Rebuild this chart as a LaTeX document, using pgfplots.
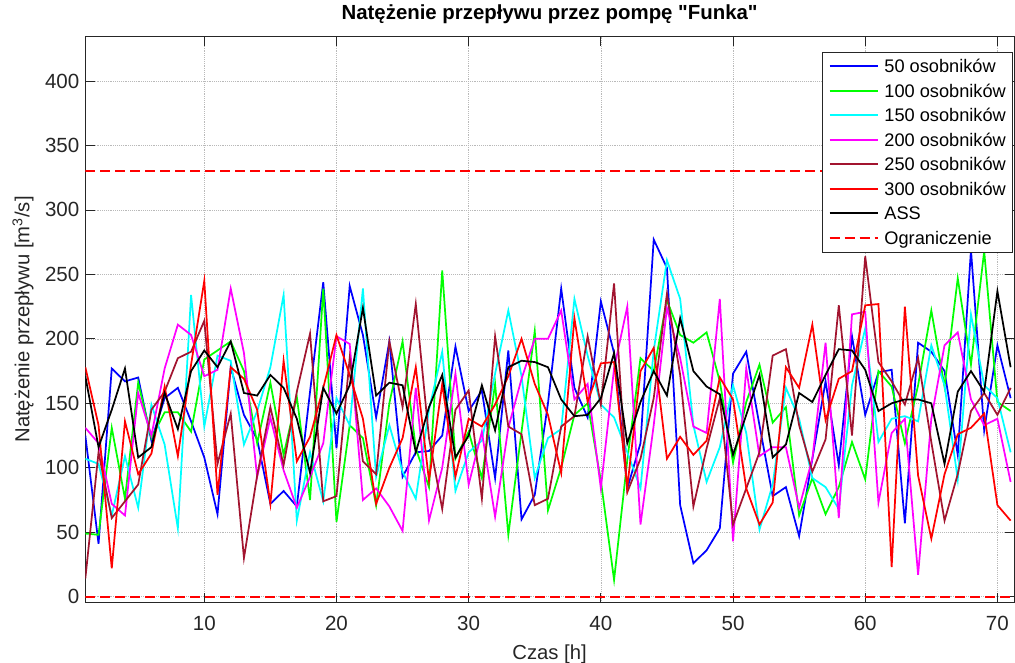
\documentclass[border=0pt]{standalone}
\usepackage{fontspec}
\setmainfont{Liberation Sans}[Ligatures=TeXOff]
\usepackage{pgfplots}
\usepackage{pgfplotstable}
\pgfplotsset{compat=1.18}
\definecolor{mdarkred}{rgb}{0.635,0.078,0.184}
\definecolor{mblue}{rgb}{0,0,1}
\definecolor{mgreen}{rgb}{0,1,0}
\definecolor{mcyan}{rgb}{0,1,1}
\definecolor{mmagenta}{rgb}{1,0,1}
\definecolor{mred}{rgb}{1,0,0}
\definecolor{axgray}{rgb}{0.15,0.15,0.15}

\pgfplotstableread{
x b g c m d r k
1 125 49 107 131 14 178 171
2 41 48 103 119 112 133 116
3 177 131 63 72 61 22 145
4 167 76 109 63 74 136 177
5 170 166 69 158 87 95 108
6 121 123 149 125 145 111 116
7 154 143 118 177 159 163 158
8 162 143 53 211 185 109 130
9 136 128 234 203 190 180 175
10 108 184 132 171 214 245 191
11 64 191 187 176 103 79 178
12 178 198 183 239 142 178 198
13 141 175 118 189 30 169 158
14 122 119 144 93 94 145 156
15 72 166 178 139 147 72 172
16 82 110 234 98 102 183 162
17 70 155 59 69 159 105 138
18 159 75 112 93 204 124 96
19 244 239 74 119 74 162 162
20 115 58 154 202 78 203 142
21 241 133 133 196 185 172 164
22 203 123 239 75 105 138 224
23 139 71 93 84 95 72 156
24 198 150 133 70 198 100 166
25 93 198 97 51 147 123 164
26 112 115 76 162 227 178 112
27 113 85 145 59 123 90 147
28 125 253 190 100 68 165 172
29 194 107 82 173 145 93 108
30 144 128 112 87 160 138 125
31 160 92 121 128 76 132 164
32 92 165 173 62 202 149 129
33 191 48 222 131 132 171 178
34 60 128 171 169 126 200 183
35 79 206 92 200 71 165 182
36 150 67 123 200 76 141 178
37 239 100 130 222 132 96 153
38 162 141 231 153 140 216 140
39 139 150 187 165 202 151 141
40 229 90 149 84 149 181 154
41 189 13 139 177 243 182 189
42 84 106 112 225 81 85 119
43 119 185 84 56 107 175 151
44 277 175 191 133 154 193 175
45 255 230 261 224 235 107 156
46 71 203 231 185 172 124 216
47 26 197 133 132 70 110 175
48 36 205 89 127 115 121 163
49 53 167 116 231 154 170 157
50 173 104 164 43 56 153 110
51 190 151 127 177 84 84 141
52 133 180 52 109 112 56 172
53 78 135 87 116 187 73 108
54 85 147 162 116 192 178 118
55 47 63 138 69 133 162 158
56 107 92 92 107 97 211 151
57 167 64 85 197 122 137 172
58 102 85 68 61 226 169 192
59 202 120 164 219 125 175 191
60 141 91 208 221 264 226 176
61 174 175 120 73 182 227 144
62 176 163 138 127 167 23 150
63 57 119 140 138 149 225 153
64 197 164 136 17 185 94 153
65 190 222 195 138 120 45 150
66 175 163 164 195 59 95 103
67 110 247 91 205 95 126 159
68 269 180 219 153 144 131 175
69 129 268 164 133 158 142 159
70 195 151 154 138 141 71 237
71 154 144 112 89 162 59 178
}\data

\begin{document}
\begin{tikzpicture}
\useasboundingbox (-64pt,-45.2pt) rectangle (697.3pt,452pt);
\begin{axis}[
  at={(0pt,0pt)}, anchor=south west,
  scale only axis, width=696.5pt, height=424.8pt,
  xmin=1, xmax=71.25, ymin=-4.6, ymax=434.7,
  xtick={10,20,...,70}, ytick={0,50,...,400},
  tick align=inside, tick pos=both, major tick length=7pt,
  grid=major, major grid style={gray!55, densely dotted, line width=0.4pt},
  axis line style={axgray, line width=0.6pt},
  every tick/.style={axgray, line width=0.6pt},
  tick label style={font=\fontsize{15.4}{18}\selectfont, text=axgray},
  /pgf/number format/assume math mode=true,
  xticklabel style={yshift=-6.4pt},
  yticklabel style={xshift=-1pt},
  xlabel={Czas [h]},
  xlabel style={at={(axis description cs:0.5,0)}, anchor=base, yshift=-42.5pt, font=\fontsize{15.2}{18}\selectfont, text=axgray},
  ylabel={Natężenie przepływu [m\textsuperscript{3}/s]},
  ylabel style={at={(axis description cs:-0.0671,0.5)}, anchor=center, font=\fontsize{15.2}{18}\selectfont, text=axgray},
  title={Natężenie przepływu przez pompę "Funka"},
  title style={at={(axis description cs:0.5,1)}, anchor=base, yshift=6.4pt, font=\bfseries\fontsize{15.3}{18}\selectfont},
  legend style={at={(1,1)}, anchor=north east, xshift=-0.75pt, yshift=-11.5pt,
    draw=axgray, fill=white, line width=0.6pt, font=\fontsize{13.65}{16}\selectfont,
    inner xsep=5pt, inner ysep=4.1pt, row sep=5.4pt, column sep=4.5pt,
    nodes={inner sep=0pt, text height=11.4pt, text depth=1.6pt}},
  legend cell align=left,
  legend image code/.code={\draw[#1] (0pt,0pt) -- (36pt,0pt);},
]
\addplot[mblue, line width=1.3pt] table[x=x,y=b]{\data};
\addlegendentry{50 osobników}
\addplot[mgreen, line width=1.3pt] table[x=x,y=g]{\data};
\addlegendentry{100 osobników}
\addplot[mcyan, line width=1.3pt] table[x=x,y=c]{\data};
\addlegendentry{150 osobników}
\addplot[mmagenta, line width=1.3pt] table[x=x,y=m]{\data};
\addlegendentry{200 osobników}
\addplot[mdarkred, line width=1.3pt] table[x=x,y=d]{\data};
\addlegendentry{250 osobników}
\addplot[mred, line width=1.3pt] table[x=x,y=r]{\data};
\addlegendentry{300 osobników}
\addplot[black, line width=1.3pt] table[x=x,y=k]{\data};
\addlegendentry{ASS}
\addplot[mred, line width=1.4pt, dash pattern=on 7.5pt off 3.75pt] coordinates {(1,0) (71.25,0)};
\addlegendentry{Ograniczenie}
\addplot[mred, line width=1.4pt, dash pattern=on 7.5pt off 3.75pt, forget plot] coordinates {(1,330) (71.25,330)};
\end{axis}
\end{tikzpicture}
\end{document}
